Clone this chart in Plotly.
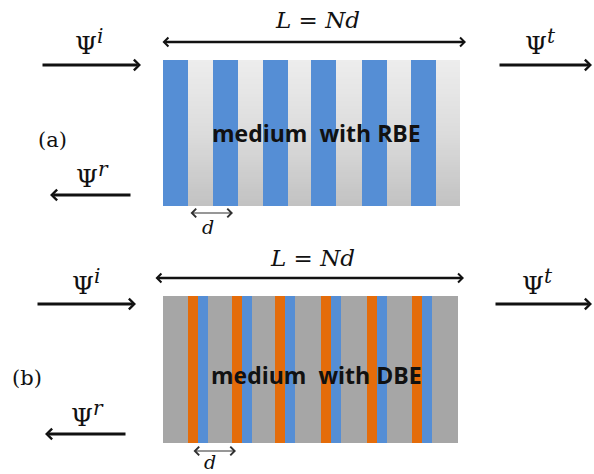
import numpy as np
import plotly.graph_objects as go

# ---- data (pixel-space schematic) ----
panels = ["a", "b"]
medium_labels = ["medium  with RBE", "medium  with DBE"]
# medium box extents [x0, x1, y0, y1]
box_a = [163, 460, 60, 206]
box_b = [163, 458, 296, 443]
# RBE: blue layer left edges and width
rbe_blue_left = [163, 213, 263, 311, 362, 411]
rbe_blue_width = 25
# DBE: orange layer left edges, orange / blue widths
dbe_orange_left = [188, 232, 275, 321, 367, 412]
dbe_orange_width = 10
dbe_blue_width = 10

BLUE = "#558ED5"
ORANGE = "#E46C0A"
GRAY_B = "#A6A6A6"
SERIF = "DejaVu Serif"

fig = go.Figure()

# gradient background of (a) via a heatmap
ny = 60
y_edges = np.linspace(box_a[2], box_a[3], ny + 1)
z = np.linspace(0, 1, ny).reshape(ny, 1)
fig.add_trace(go.Heatmap(
    x=[box_a[0], box_a[1]], y=y_edges, z=z,
    colorscale=[[0, "#EDEDED"], [0.5, "#DCDCDC"], [1, "#C2C2C2"]],
    showscale=False, hoverinfo="skip"))

shapes = []
for xl in rbe_blue_left:
    shapes.append(dict(type="rect", x0=xl, x1=xl + rbe_blue_width, y0=box_a[2], y1=box_a[3],
                       fillcolor=BLUE, line=dict(width=0), layer="above"))

shapes.append(dict(type="rect", x0=box_b[0], x1=box_b[1], y0=box_b[2], y1=box_b[3],
                   fillcolor=GRAY_B, line=dict(width=0), layer="above"))
for xl in dbe_orange_left:
    shapes.append(dict(type="rect", x0=xl, x1=xl + dbe_orange_width, y0=box_b[2], y1=box_b[3],
                       fillcolor=ORANGE, line=dict(width=0), layer="above"))
    shapes.append(dict(type="rect", x0=xl + dbe_orange_width, x1=xl + dbe_orange_width + dbe_blue_width,
                       y0=box_b[2], y1=box_b[3], fillcolor=BLUE, line=dict(width=0), layer="above"))

ann = []

def arrow(x0, y0, x1, y1, w=3, color="#111111", both=False, size=0.7):
    ann.append(dict(x=x1, y=y1, ax=x0, ay=y0, xref="x", yref="y", axref="x", ayref="y",
                    text="", showarrow=True, arrowhead=4, startarrowhead=4,
                    arrowsize=size, startarrowsize=size, arrowwidth=w, arrowcolor=color,
                    arrowside="end+start" if both else "end", standoff=0, startstandoff=0))

def label(x, y, text, size=22, family=SERIF, color="#111111"):
    ann.append(dict(x=x, y=y, xref="x", yref="y", text=text, showarrow=False,
                    font=dict(size=size, family=family, color=color),
                    xanchor="center", yanchor="middle"))

def psi(s):
    return "Ψ<sup><i><span style='font-size:20px'>" + s + "</span></i></sup>"

psi_i = psi("i")
psi_t = psi("t")
psi_r = psi("r")
LNd = "<i>L</i> = <i>Nd</i>"

# panel (a)
arrow(41, 65, 141, 65)
arrow(498, 65, 592, 65)
arrow(132, 195, 50, 195)
arrow(161, 42, 466, 42, w=2.5, both=True)
arrow(189, 213, 233, 213, w=1.2, color="#303030", both=True, size=1.4)
label(317, 20, LNd, size=23)
label(89, 42, psi_i, size=25)
label(540, 42, psi_t, size=25)
label(92, 175, psi_r, size=25)
label(52, 140, "(a)", size=21)
label(208, 227, "<i>d</i>", size=19)
label(316, 133, "<b>" + medium_labels[0] + "</b>", size=23, family="Open Sans")

# panel (b)
arrow(36, 304, 136, 304)
arrow(494, 304, 592, 304)
arrow(127, 434, 45, 434)
arrow(154, 278, 464, 278, w=2.5, both=True)
arrow(192, 451, 236, 451, w=1.2, color="#303030", both=True, size=1.4)
label(312, 258, LNd, size=23)
label(86, 282, psi_i, size=25)
label(537, 282, psi_t, size=25)
label(87, 414, psi_r, size=25)
label(27, 378, "(b)", size=21)
label(210, 462, "<i>d</i>", size=19)
label(316, 375, "<b>" + medium_labels[1] + "</b>", size=23, family="Open Sans")

fig.update_layout(
    width=594, height=474, margin=dict(l=0, r=0, t=0, b=0),
    paper_bgcolor="white", plot_bgcolor="white",
    xaxis=dict(range=[0, 594], visible=False, fixedrange=True),
    yaxis=dict(range=[474, 0], visible=False, fixedrange=True),
    shapes=shapes, annotations=ann, showlegend=False,
)
fig.write_html("out.html")
